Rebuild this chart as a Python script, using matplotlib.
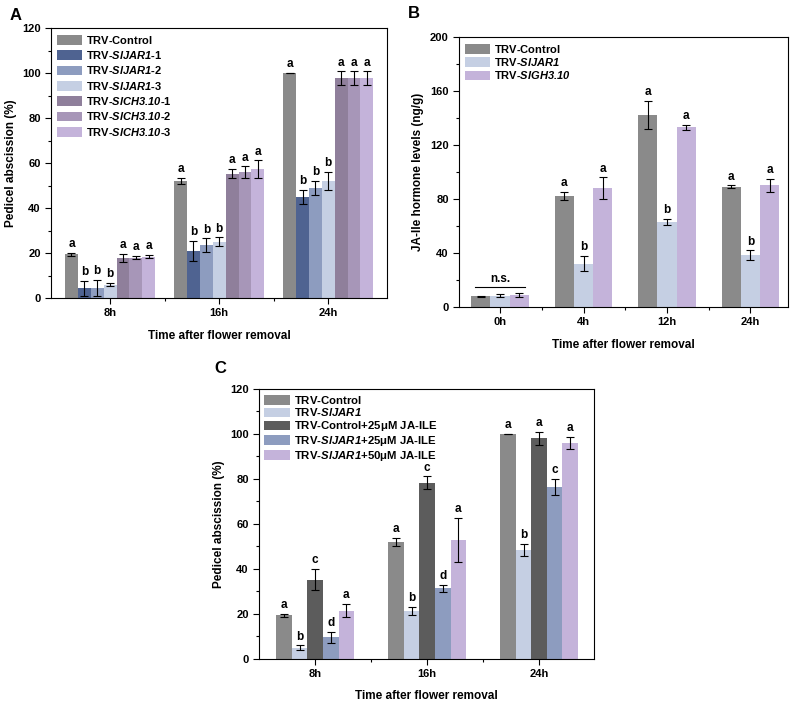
import matplotlib
matplotlib.use("Agg")
import matplotlib.pyplot as plt
import numpy as np

plt.rcParams['font.family'] = ['Liberation Sans', 'DejaVu Sans']
plt.rcParams['font.weight'] = 'bold'
# parte em itálico dos nomes de genes (inclusive os dígitos)
plt.rcParams['mathtext.fontset'] = 'custom'
plt.rcParams['mathtext.rm'] = 'Liberation Sans:bold:italic'
plt.rcParams['mathtext.it'] = 'Liberation Sans:bold:italic'
plt.rcParams['mathtext.bf'] = 'Liberation Sans:bold'

# --- Dados painel A ---
a_grupos = ["8h", "16h", "24h"]
a_series = [r"$\mathbf{T}$RV-Control", r"TRV-$\mathrm{SlJAR1}$-1", r"TRV-$\mathrm{SlJAR1}$-2",
            r"TRV-$\mathrm{SlJAR1}$-3", r"TRV-$\mathrm{SlCH3.10}$-1",
            r"TRV-$\mathrm{SlCH3.10}$-2", r"TRV-$\mathrm{SlCH3.10}$-3"]
a_valores = [[19.5, 52.0, 100.0],
             [4.3, 21.0, 45.0],
             [4.5, 23.5, 49.0],
             [6.0, 25.0, 52.0],
             [17.8, 55.3, 97.8],
             [18.0, 56.0, 97.8],
             [18.4, 57.2, 97.8]]
a_erros = [[0.7, 1.5, 0.0],
           [3.3, 4.5, 3.0],
           [3.5, 3.0, 3.0],
           [0.8, 2.0, 4.0],
           [1.8, 2.0, 3.0],
           [0.8, 2.5, 3.0],
           [0.8, 4.0, 3.0]]
a_letras = [["a", "a", "a"],
            ["b", "b", "b"],
            ["b", "b", "b"],
            ["b", "b", "b"],
            ["a", "a", "a"],
            ["a", "a", "a"],
            ["a", "a", "a"]]
a_cores = ["#8a8a8a", "#4f6391", "#8d9cbf", "#c5cfe3", "#8f7f9b", "#a796b8", "#c4b3da"]

# --- Dados painel B ---
b_grupos = ["0h", "4h", "12h", "24h"]
b_series = [r"$\mathbf{T}$RV-Control", r"TRV-$\mathrm{SlJAR1}$", r"TRV-$\mathrm{SlGH3.10}$"]
b_valores = [[8.0, 82.5, 142.0, 89.0],
             [8.5, 32.0, 63.0, 38.5],
             [9.0, 88.0, 133.0, 90.0]]
b_erros = [[0.3, 3.0, 10.5, 1.2],
           [1.0, 5.7, 2.5, 3.5],
           [1.5, 8.0, 2.0, 5.0]]
b_letras = [["", "a", "a", "a"],
            ["", "b", "b", "b"],
            ["", "a", "a", "a"]]
b_cores = ["#8a8a8a", "#c5cfe3", "#c4b3da"]

# --- Dados painel C ---
c_grupos = ["8h", "16h", "24h"]
c_series = [r"$\mathbf{T}$RV-Control", r"TRV-$\mathrm{SlJAR1}$", r"$\mathbf{T}$RV-Control+25μM JA-ILE",
            r"TRV-$\mathrm{SlJAR1}$+25μM JA-ILE", r"TRV-$\mathrm{SlJAR1}$+50μM JA-ILE"]
c_valores = [[19.5, 52.0, 100.0],
             [5.0, 21.3, 48.5],
             [35.3, 78.3, 98.0],
             [9.7, 31.4, 76.5],
             [21.5, 53.0, 96.0]]
c_erros = [[0.7, 1.7, 0.0],
           [1.0, 1.8, 2.8],
           [4.8, 2.8, 3.0],
           [2.5, 1.5, 3.5],
           [3.0, 9.7, 2.7]]
c_letras = [["a", "a", "a"],
            ["b", "b", "b"],
            ["c", "c", "a"],
            ["d", "d", "c"],
            ["a", "a", "a"]]
c_cores = ["#8a8a8a", "#c5cfe3", "#5c5c5c", "#8d9cbf", "#c4b3da"]


def barras(ax, grupos, series, valores, erros, letras, cores, largura, ymax, passo, ylabel, xlim,
           fs_leg=8, esp_leg=0.3, pad_leg=0.3):
    x = np.arange(len(grupos))
    n = len(series)
    for i in range(n):
        pos = x + (i - (n - 1) / 2) * largura
        ax.bar(pos, valores[i], largura, color=cores[i], label=series[i])
        ax.errorbar(pos, valores[i], yerr=erros[i], fmt="none", ecolor="black",
                    elinewidth=0.8, capsize=3, capthick=0.8)
        for j in range(len(grupos)):
            if letras[i][j]:
                ax.text(pos[j], valores[i][j] + erros[i][j] + ymax * 0.01, letras[i][j],
                        ha="center", va="bottom", fontsize=8.5, fontweight="bold")
    ax.set_xticks(x)
    ax.set_xticklabels(grupos)
    ax.set_xticks(x[:-1] + 0.5, minor=True)
    ax.set_xlim(xlim)
    ax.set_ylim(0, ymax)
    ax.set_yticks(np.arange(0, ymax + 1, passo))
    ax.set_yticks(np.arange(passo / 2, ymax, passo), minor=True)
    ax.tick_params(axis="both", which="major", direction="out", length=4, width=0.8, labelsize=8)
    ax.tick_params(axis="both", which="minor", direction="out", length=2.5, width=0.8)
    ax.set_ylabel(ylabel, fontsize=8.5, fontweight="bold")
    ax.set_xlabel("Time after flower removal", fontsize=8.5, fontweight="bold", labelpad=8)
    for s in ax.spines.values():
        s.set_linewidth(0.8)
    ax.legend(loc="upper left", frameon=False, fontsize=fs_leg, handlelength=2.3,
              handleheight=0.95, handletextpad=0.35, labelspacing=esp_leg,
              borderaxespad=pad_leg, borderpad=0.2)


fig = plt.figure(figsize=(8, 7.02), dpi=100)

ax1 = fig.add_axes([0.064, 0.5755, 0.42, 0.3845])
barras(ax1, a_grupos, a_series, a_valores, a_erros, a_letras, a_cores, 0.118, 120, 20,
       "Pedicel abscission (%)", (-0.54, 2.54), esp_leg=0.3)

ax2 = fig.add_axes([0.574, 0.5627, 0.411, 0.3846])
barras(ax2, b_grupos, b_series, b_valores, b_erros, b_letras, b_cores, 0.23, 200, 40,
       "JA-Ile hormone levels (ng/g)", (-0.49, 3.45), esp_leg=0.12)
ax2.plot([-0.3, 0.3], [14.5, 14.5], color="black", lw=0.8)
ax2.text(0, 16.5, "n.s.", ha="center", va="bottom", fontsize=8.5, fontweight="bold")

ax3 = fig.add_axes([0.324, 0.0613, 0.4185, 0.3846])
barras(ax3, c_grupos, c_series, c_valores, c_erros, c_letras, c_cores, 0.139, 120, 20,
       "Pedicel abscission (%)", (-0.5, 2.49), fs_leg=8.2, esp_leg=0.08, pad_leg=0.2)

fig.text(0.012, 0.978, "A", fontsize=12, fontweight="bold", va="center")
fig.text(0.51, 0.981, "B", fontsize=12, fontweight="bold", va="center")
fig.text(0.268, 0.475, "C", fontsize=12, fontweight="bold", va="center")

plt.savefig("out.png", dpi=100)
print("Figura salva!")
